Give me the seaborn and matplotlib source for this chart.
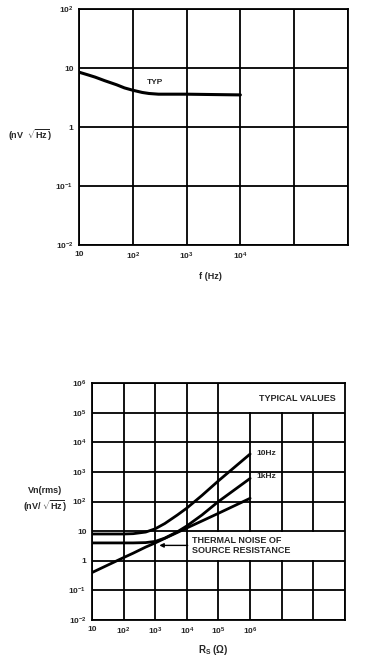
import matplotlib
matplotlib.use("Agg")
import matplotlib.pyplot as plt
import seaborn as sns
import pandas as pd
from matplotlib.patches import Rectangle

# ---- data: top chart (voltage noise vs frequency) ----
top_f = [10, 15, 20, 30, 50, 70, 100, 150, 200, 300, 1000, 3000, 10000]
top_v = [8.5, 7.6, 7.0, 6.1, 5.2, 4.6, 4.2, 3.85, 3.7, 3.6, 3.6, 3.55, 3.5]
top_xticks = [10, 1e2, 1e3, 1e4, 1e5, 1e6]
top_xlabels = ["10", "10$^2$", "10$^3$", "10$^4$", "", ""]
top_yticks = [1e-2, 1e-1, 1, 10, 1e2]
top_ylabels = ["10$^{-2}$", "10$^{-1}$", "1", "10", "10$^2$"]

# ---- data: bottom chart (noise vs source resistance) ----
rs = [10, 100, 200, 500, 1000, 2000, 5000, 10000, 30000, 100000, 1000000]
vn_10hz = [8.0, 8.0, 8.2, 9.3, 12, 18, 35, 60, 160, 500, 4000]
vn_1khz = [4.0, 4.0, 4.0, 4.1, 4.5, 5.8, 9.5, 15, 35, 100, 600]
vn_thermal = [0.4, 1.28, 1.8, 2.9, 4.0, 5.7, 9.0, 12.8, 22, 40, 128]
bot_xticks = [10, 1e2, 1e3, 1e4, 1e5, 1e6, 1e7, 1e8, 1e9]
bot_xlabels = ["10", "10$^2$", "10$^3$", "10$^4$", "10$^5$", "10$^6$", "", "", ""]
bot_yticks = [1e-2, 1e-1, 1, 10, 1e2, 1e3, 1e4, 1e5, 1e6]
bot_ylabels = ["10$^{-2}$", "10$^{-1}$", "1", "10", "10$^2$", "10$^3$",
               "10$^4$", "10$^5$", "10$^6$"]

sns.set_theme(style="white")
plt.rcParams['font.family'] = ['Liberation Sans', 'DejaVu Sans']
plt.rcParams['font.weight'] = 'bold'
plt.rcParams['mathtext.fontset'] = 'custom'
plt.rcParams['mathtext.rm'] = 'Liberation Sans:bold'
plt.rcParams['mathtext.bf'] = 'Liberation Sans:bold'
plt.rcParams['mathtext.it'] = 'Liberation Sans:bold'
plt.rcParams['mathtext.default'] = 'bf'

fig = plt.figure(figsize=(3.77, 6.61), dpi=100)
fs = 6
glw = 1.3

def style_axes(ax, xt, xl, yt, yl):
    ax.set_xscale("log")
    ax.set_yscale("log")
    ax.set_xlim(xt[0], xt[-1])
    ax.set_ylim(yt[0], yt[-1])
    ax.set_xticks(xt)
    ax.set_xticklabels(xl, fontsize=fs, fontweight='bold')
    ax.set_yticks(yt)
    ax.set_yticklabels(yl, fontsize=fs, fontweight='bold')
    ax.minorticks_off()
    ax.tick_params(length=0, pad=4)
    ax.grid(True, color="black", linewidth=glw)
    ax.set_axisbelow(True)
    for s in ax.spines.values():
        s.set_color("black")
        s.set_linewidth(glw)
    ax.set_xlabel("")
    ax.set_ylabel("")

# ---- top axes ----
ax1 = fig.add_axes([0.2095, 0.6293, 0.7135, 0.3571])
df1 = pd.DataFrame({"f": top_f, "v": top_v})
sns.lineplot(data=df1, x="f", y="v", ax=ax1, color="black", linewidth=2.2)
style_axes(ax1, top_xticks, top_xlabels, top_yticks, top_ylabels)
ax1.text(260, 5.6, "TYP", fontsize=6, fontweight='bold', ha="center", va="center")
fig.text(0.08, 1 - 135 / 661, r"(nV  $\sqrt{\mathbf{Hz}}$)", fontsize=6.5,
         ha="center", va="center")
fig.text(0.557, 1 - 276 / 661, "f (Hz)", fontsize=6.5, ha="center", va="center")

# ---- bottom axes ----
ax2 = fig.add_axes([0.244, 0.062, 0.671, 0.3586])
df2 = pd.DataFrame({
    "rs": rs * 3,
    "vn": vn_10hz + vn_1khz + vn_thermal,
    "s": ["10Hz"] * len(rs) + ["1kHz"] * len(rs) + ["thermal"] * len(rs),
})
sns.lineplot(data=df2, x="rs", y="vn", units="s", estimator=None, ax=ax2,
             color="black", linewidth=2.0, sort=False)
style_axes(ax2, bot_xticks, bot_xlabels, bot_yticks, bot_ylabels)

# white boxes hiding grid lines behind labels
ax2.add_patch(Rectangle((1.06e5, 1.07e5), 1e9 - 1.06e5, 1e6 / 1.07 - 1.07e5,
                        facecolor="white", edgecolor="none", zorder=1.5))
ax2.add_patch(Rectangle((1.06e4, 1.07), 1e9 - 1.06e4, 10 / 1.07 - 1.07,
                        facecolor="white", edgecolor="none", zorder=1.5))
ax2.text(3.2e7, 3.1e5, "TYPICAL VALUES", fontsize=6.5, fontweight='bold',
         ha="center", va="center", zorder=3)
ax2.text(1.5e4, 5.0, "THERMAL NOISE OF", fontsize=6.5, fontweight='bold',
         ha="left", va="center", zorder=3)
ax2.text(1.5e4, 2.2, "SOURCE RESISTANCE", fontsize=6.5, fontweight='bold',
         ha="left", va="center", zorder=3)
ax2.annotate("", xy=(1.1e3, 3.3), xytext=(1.3e4, 3.3),
             arrowprops=dict(arrowstyle="-|>", color="black", lw=1.0,
                             mutation_scale=6), zorder=3)
ax2.text(1.6e6, 4200, "10Hz", fontsize=6, fontweight='bold', ha="left", va="center")
ax2.text(1.6e6, 700, "1kHz", fontsize=6, fontweight='bold', ha="left", va="center")
fig.text(0.12, 1 - 500 / 661, "Vn(rms)\n" + r"(nV/ $\sqrt{\mathbf{Hz}}$)",
         fontsize=6.5, ha="center", va="center", linespacing=1.3)
fig.text(0.565, 1 - 650 / 661, r"R$_\mathbf{S}$ ($\Omega$)", fontsize=7,
         ha="center", va="center")

fig.savefig("out.png", dpi=100)
